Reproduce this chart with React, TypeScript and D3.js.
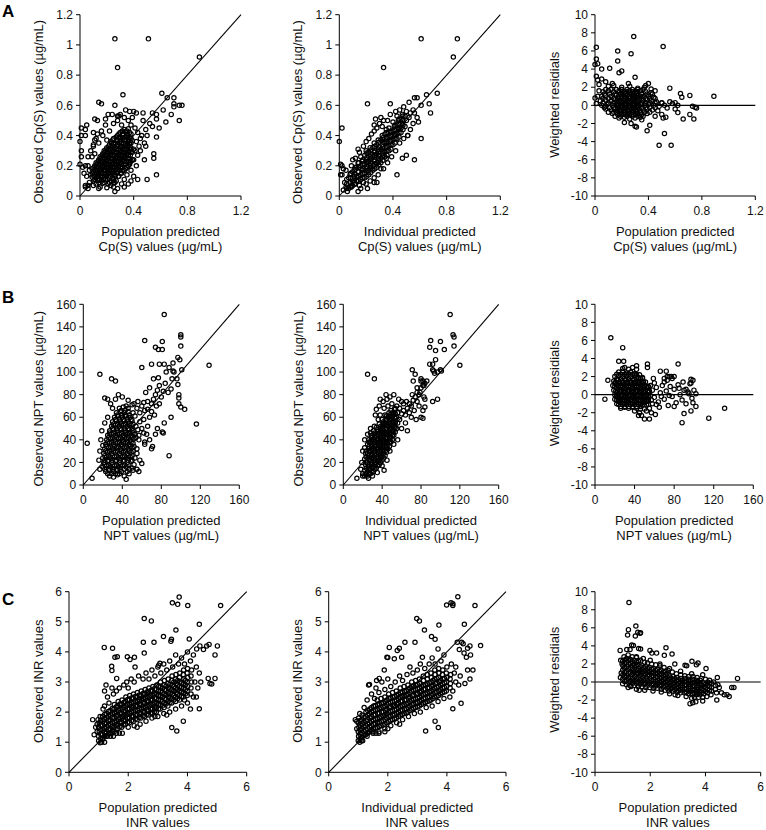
import React from "react";
import * as d3 from "d3";

type Pt = [number, number];
type Strip = [number, number[]];

// ---------- Row A : Cp(S) ----------
const cpPopObs: Pt[] = [
  [0.15,0.06],[0.2,0.055],[0.23,0.07],[0.12,0.08],[0.17,0.085],[0.21,0.08],[0.26,0.09],[0.31,0.08],
  [0.1,0.1],[0.135,0.105],[0.16,0.1],[0.19,0.11],[0.235,0.1],[0.27,0.1],
  [0.09,0.125],[0.12,0.12],[0.15,0.13],[0.18,0.12],[0.21,0.125],[0.245,0.12],[0.285,0.13],
  [0.08,0.14],[0.11,0.145],[0.14,0.14],[0.17,0.15],[0.2,0.14],[0.23,0.145],[0.26,0.14],[0.3,0.15],
  [0.1,0.16],[0.13,0.165],[0.16,0.16],[0.19,0.17],[0.22,0.16],[0.25,0.165],[0.28,0.16],[0.32,0.17],
  [0.09,0.18],[0.12,0.185],[0.15,0.18],[0.18,0.19],[0.21,0.18],[0.24,0.185],[0.27,0.18],[0.3,0.19],[0.34,0.18],
  [0.11,0.2],[0.14,0.205],[0.17,0.2],[0.2,0.21],[0.23,0.2],[0.26,0.205],[0.29,0.2],[0.32,0.21],[0.36,0.2],
  [0.12,0.22],[0.15,0.225],[0.18,0.22],[0.21,0.23],[0.24,0.22],[0.27,0.225],[0.3,0.22],[0.33,0.23],[0.37,0.22],
  [0.14,0.24],[0.17,0.245],[0.2,0.24],[0.23,0.25],[0.26,0.24],[0.29,0.245],[0.32,0.24],[0.35,0.25],[0.39,0.24],
  [0.15,0.26],[0.18,0.265],[0.21,0.26],[0.24,0.27],[0.27,0.26],[0.3,0.265],[0.33,0.26],[0.36,0.27],
  [0.17,0.28],[0.2,0.285],[0.23,0.28],[0.26,0.29],[0.29,0.28],[0.32,0.285],[0.35,0.28],[0.38,0.29],
  [0.18,0.3],[0.21,0.305],[0.24,0.3],[0.27,0.31],[0.3,0.3],[0.33,0.305],[0.36,0.3],[0.4,0.31],
  [0.2,0.32],[0.23,0.325],[0.26,0.32],[0.29,0.33],[0.32,0.32],[0.35,0.325],[0.38,0.32],
  [0.22,0.34],[0.25,0.345],[0.28,0.34],[0.31,0.35],[0.34,0.34],[0.37,0.345],
  [0.23,0.36],[0.27,0.365],[0.3,0.36],[0.33,0.37],[0.36,0.36],[0.39,0.365],
  [0.25,0.38],[0.29,0.385],[0.32,0.38],[0.35,0.39],[0.38,0.38],
  [0.28,0.4],[0.32,0.405],[0.35,0.4],[0.38,0.41],[0.3,0.42],[0.34,0.425],[0.37,0.42],[0.33,0.44],[0.36,0.445],
  [0.08,0.3],[0.1,0.33],[0.12,0.38],[0.14,0.35],[0.09,0.26],[0.06,0.2],[0.07,0.17],[0.17,0.4],[0.2,0.37],
  [0.22,0.43],[0.19,0.47],[0.25,0.48],[0.28,0.5],[0.31,0.47],[0.33,0.52],[0.36,0.5],[0.38,0.47],[0.41,0.45],
  [0.43,0.42],[0.45,0.38],[0.42,0.36],[0.44,0.33],[0.41,0.3],[0.43,0.27],[0.4,0.24],[0.42,0.2],[0.38,0.17],
  [0.35,0.14],[0.33,0.11],[0.4,0.13],[0.46,0.4],[0.49,0.44],[0.47,0.5],[0.52,0.48],[0.5,0.4],[0.48,0.35],
  [0.39,0.52],[0.42,0.55],[0.37,0.56],[0.3,0.54],[0.16,0.43],[0.13,0.41],[0.11,0.28],[0.05,0.13],[0.06,0.07],
  [0.1,0.07],[0.14,0.05],[0.25,0.06],[0.28,0.05],[0.36,0.08],[0.45,0.3],[0.04,0.4],[0.1,0.42],[0.11,0.37],[0.1,0.34],
  [0.26,1.04],[0.51,1.04],[0.28,0.85],[0.89,0.92],[0.32,0.67],[0.61,0.68],[0.65,0.65],[0.7,0.65],[0.7,0.61],
  [0.7,0.59],[0.74,0.6],[0.76,0.6],[0.74,0.5],[0.64,0.49],[0.68,0.54],[0.62,0.57],[0.14,0.62],[0.16,0.61],
  [0.26,0.6],[0.34,0.57],[0.4,0.56],[0.47,0.55],[0.54,0.55],[0.57,0.54],[0.57,0.51],[0.54,0.46],[0.59,0.45],
  [0.57,0.39],[0.49,0.33],[0.55,0.28],[0.55,0.25],[0.48,0.24],[0.57,0.14],[0.5,0.11],[0.43,0.11],[0.38,0.1],
  [0.33,0.06],[0.26,0.03],[0.01,0.45],[0.05,0.47],[0.04,0.44],[0.01,0.4],[0,0.36],[0.01,0.3],[0.01,0.26],
  [0,0.21],[0.02,0.19],[0.03,0.15],[0.04,0.2],[0.06,0.26],[0.04,0.07],[0.04,0.06],[0.06,0.05],[0.07,0.09],
  [0.11,0.51],[0.13,0.5],[0.19,0.51],[0.21,0.54],[0.24,0.54],[0.28,0.53],[0.29,0.53]
];
// dense core, rows of [y, x values]
const cpPopObsCore: Strip[] = [
  [0.09,[0.14,0.18,0.22,0.25]],
  [0.11,[0.11,0.145,0.175,0.205,0.25]],
  [0.13,[0.105,0.135,0.165,0.195,0.225,0.26,0.29]],
  [0.15,[0.095,0.125,0.155,0.185,0.215,0.245,0.275,0.31]],
  [0.17,[0.115,0.145,0.175,0.205,0.235,0.265,0.295,0.33]],
  [0.19,[0.105,0.135,0.165,0.195,0.225,0.255,0.285,0.315,0.35]],
  [0.21,[0.125,0.155,0.185,0.215,0.245,0.275,0.305,0.34,0.37]],
  [0.23,[0.135,0.165,0.195,0.225,0.255,0.285,0.315,0.35,0.38]],
  [0.25,[0.155,0.185,0.215,0.245,0.275,0.305,0.335,0.365]],
  [0.27,[0.165,0.195,0.225,0.255,0.285,0.315,0.345,0.375]],
  [0.29,[0.185,0.215,0.245,0.275,0.305,0.335,0.365,0.39]],
  [0.31,[0.195,0.225,0.255,0.285,0.315,0.345,0.375]],
  [0.33,[0.215,0.245,0.275,0.305,0.335,0.365]],
  [0.35,[0.235,0.265,0.295,0.325,0.355,0.38]],
  [0.37,[0.245,0.275,0.305,0.335,0.365]],
  [0.39,[0.27,0.3,0.335,0.365]],
  [0.41,[0.29,0.32,0.355]],
  [0.43,[0.315,0.35]]
];

const cpIndObs: Pt[] = [
  [0.03,0.04],[0.05,0.06],[0.04,0.09],[0.06,0.03],[0.07,0.05],[0.08,0.09],[0.07,0.12],[0.09,0.06],[0.08,0.14],
  [0.1,0.07],[0.1,0.1],[0.11,0.13],[0.1,0.16],[0.12,0.08],[0.12,0.19],
  [0.13,0.1],[0.13,0.13],[0.14,0.16],[0.13,0.19],[0.14,0.22],[0.15,0.07],
  [0.16,0.11],[0.16,0.14],[0.17,0.17],[0.16,0.2],[0.17,0.23],[0.16,0.26],[0.18,0.09],
  [0.19,0.12],[0.19,0.15],[0.2,0.18],[0.19,0.21],[0.2,0.24],[0.19,0.27],[0.2,0.3],
  [0.22,0.14],[0.22,0.17],[0.23,0.2],[0.22,0.23],[0.23,0.26],[0.22,0.29],[0.23,0.32],
  [0.25,0.17],[0.25,0.2],[0.26,0.23],[0.25,0.26],[0.26,0.29],[0.25,0.32],[0.26,0.35],
  [0.28,0.19],[0.28,0.22],[0.29,0.25],[0.28,0.28],[0.29,0.31],[0.28,0.34],[0.29,0.37],
  [0.31,0.22],[0.31,0.25],[0.32,0.28],[0.31,0.31],[0.32,0.34],[0.31,0.37],[0.32,0.4],
  [0.34,0.26],[0.34,0.29],[0.35,0.32],[0.34,0.35],[0.35,0.38],[0.34,0.41],[0.35,0.44],
  [0.37,0.3],[0.37,0.33],[0.38,0.36],[0.37,0.39],[0.38,0.42],[0.37,0.45],
  [0.4,0.34],[0.4,0.37],[0.41,0.4],[0.4,0.43],[0.41,0.46],[0.4,0.49],
  [0.43,0.38],[0.43,0.41],[0.44,0.44],[0.43,0.47],[0.44,0.5],[0.43,0.53],
  [0.46,0.42],[0.46,0.45],[0.47,0.48],[0.46,0.51],[0.47,0.54],[0.49,0.46],[0.5,0.5],[0.49,0.53],[0.5,0.56],
  [0.52,0.52],[0.53,0.55],[0.55,0.57],
  [0.02,0.2],[0.03,0.18],[0.02,0.14],[0.05,0.17],[0.09,0.2],[0.1,0.24],[0.12,0.25],[0.15,0.29],[0.14,0.31],
  [0.18,0.33],[0.2,0.36],[0.22,0.38],[0.24,0.41],[0.26,0.43],[0.28,0.45],[0.3,0.48],[0.32,0.46],[0.26,0.47],
  [0.27,0.51],[0.31,0.52],[0.33,0.5],[0.36,0.5],[0.38,0.54],[0.42,0.56],[0.45,0.57],[0.48,0.59],[0.2,0.08],
  [0.23,0.1],[0.26,0.12],[0.29,0.14],[0.33,0.18],[0.36,0.22],[0.39,0.26],[0.42,0.3],[0.45,0.35],[0.48,0.38],
  [0.51,0.4],[0.53,0.44],[0.55,0.48],[0.58,0.52],[0.56,0.55],[0.16,0.05],[0.21,0.05],[0.26,0.09],[0.28,0.09],
  [0.31,0.18],[0.35,0.25],
  [0.61,1.04],[0.88,1.04],[0.85,0.92],[0.33,0.85],[0.73,0.68],[0.65,0.67],[0.56,0.65],[0.58,0.65],[0.61,0.6],
  [0.67,0.61],[0.68,0.55],[0.52,0.62],[0.21,0.61],[0.38,0.61],[0.59,0.49],[0.61,0.38],[0.51,0.4],[0.47,0.25],
  [0.5,0.27],[0.56,0.24],[0.43,0.14],[0.02,0.45],[0,0.36],[0.01,0.21],[0.01,0.14],[0.14,0.03],[0.13,0.1]
];
// dense core, columns of [x, y values]
const cpIndObsCore: Strip[] = [
  [0.055,[0.05,0.08,0.11]],
  [0.085,[0.06,0.09,0.12,0.15]],
  [0.115,[0.08,0.115,0.145,0.175]],
  [0.145,[0.1,0.13,0.16,0.19,0.22]],
  [0.175,[0.12,0.15,0.18,0.21,0.24]],
  [0.205,[0.13,0.165,0.195,0.225,0.255,0.285]],
  [0.235,[0.155,0.185,0.215,0.245,0.275,0.305]],
  [0.265,[0.18,0.21,0.24,0.27,0.3,0.33]],
  [0.295,[0.205,0.235,0.265,0.295,0.325,0.355]],
  [0.325,[0.235,0.265,0.295,0.325,0.355,0.385]],
  [0.355,[0.27,0.3,0.33,0.36,0.39,0.42]],
  [0.385,[0.31,0.34,0.37,0.4,0.43]],
  [0.415,[0.35,0.38,0.41,0.44,0.47]],
  [0.445,[0.39,0.42,0.45,0.48,0.51]],
  [0.475,[0.44,0.47,0.5,0.53]]
];

const cpPopRes: Pt[] = [
  [0.1,2.1],[0.14,2.2],[0.2,2.0],[0.26,2.1],[0.32,1.9],[0.37,2.0],
  [0.06,1.5],[0.1,1.6],[0.14,1.5],[0.18,1.6],[0.22,1.5],[0.26,1.6],[0.3,1.5],[0.34,1.6],[0.38,1.5],[0.42,1.4],
  [0.05,1.0],[0.08,1.1],[0.12,1.0],[0.16,1.1],[0.2,1.0],[0.24,1.1],[0.28,1.0],[0.32,1.1],[0.36,1.0],[0.4,1.0],[0.44,0.9],
  [0.04,0.5],[0.08,0.6],[0.12,0.5],[0.15,0.6],[0.18,0.5],[0.21,0.6],[0.24,0.5],[0.27,0.6],[0.3,0.5],[0.33,0.6],[0.36,0.5],[0.39,0.6],[0.42,0.5],[0.46,0.4],
  [0.05,0.0],[0.09,0.1],[0.13,0.0],[0.16,0.1],[0.19,0.0],[0.22,0.1],[0.25,0.0],[0.28,0.1],[0.31,0.0],[0.34,0.1],[0.37,0.0],[0.4,0.1],[0.44,0.0],[0.48,-0.1],
  [0.08,-0.4],[0.12,-0.5],[0.15,-0.4],[0.18,-0.5],[0.21,-0.4],[0.24,-0.5],[0.27,-0.4],[0.3,-0.5],[0.33,-0.4],[0.36,-0.5],[0.39,-0.4],[0.43,-0.5],
  [0.13,-0.9],[0.17,-1.0],[0.2,-0.9],[0.23,-1.0],[0.26,-0.9],[0.29,-1.0],[0.32,-0.9],[0.35,-1.0],[0.39,-0.9],
  [0.18,-1.4],[0.22,-1.3],[0.26,-1.5],[0.3,-1.4],[0.34,-1.3],
  [0.17,0.25],[0.2,0.3],[0.23,0.25],[0.26,0.3],[0.29,0.25],[0.32,0.3],[0.17,0.75],[0.2,0.8],[0.23,0.75],[0.26,0.8],
  [0.29,0.75],[0.32,0.8],[0.17,-0.25],[0.2,-0.2],[0.23,-0.25],[0.26,-0.2],[0.29,-0.25],[0.32,-0.2],[0.19,-0.7],
  [0.22,-0.75],[0.25,-0.7],[0.28,-0.75],[0.31,-0.7],[0.19,1.25],[0.23,1.3],[0.27,1.25],[0.31,1.3],
  [0.29,7.6],[0.51,6.5],[0.01,6.4],[0.17,6.0],[0.17,4.9],[0.27,5.7],[0.18,3.6],[0.2,3.8],[0.01,5.1],[0.02,4.6],
  [0,4.5],[0.11,4.1],[0.05,4.0],[0.3,3.1],[0.01,3.2],[0.02,2.8],[0.03,2.3],[0.05,2.9],[0.56,1.9],[0.64,1.3],
  [0.65,0.9],[0.71,1.1],[0.89,1.0],[0.71,-1.0],[0.74,-1.5],[0.66,-1.5],[0.73,-0.1],[0.75,-0.2],[0.76,-0.3],
  [0.39,-2.8],[0.41,-2.2],[0.3,-2.3],[0.31,-2.4],[0.48,-4.4],[0.57,-4.4],[0.52,-3.1],[0.51,-1.4],[0.53,-1.3],
  [0.5,-1.0],[0.45,1.6],[0.42,1.8],[0.38,2.2],[0.4,2.4],[0.56,0.4],[0.58,0.2],[0.54,-0.3],[0.6,-0.4],[0.62,-0.8],
  [0.5,0.3],[0.52,0.0],[0.47,-0.6],[0.45,-1.2],[0.62,0.0],[0.6,0.3],[0.13,2.4],[0.08,2.6],[0.02,1.0],[0,0.8],
  [0.01,0.2],[0.03,1.6],[0.22,-1.9],[0.27,-2.0],[0.35,-1.6],[0.08,-0.1],[0.25,2.4]
];
const cpPopResCore: Strip[] = [
  [1.75,[0.08,0.12,0.16,0.2,0.24,0.28,0.32,0.36]],
  [1.5,[0.2,0.24,0.28,0.32]],
  [1.25,[0.07,0.11,0.15,0.35,0.39,0.43]],
  [1.0,[0.18,0.22,0.26,0.3,0.34]],
  [0.75,[0.06,0.1,0.14,0.35,0.38,0.41,0.45]],
  [0.5,[0.165,0.195,0.225,0.255,0.285,0.315]],
  [0.25,[0.06,0.1,0.14,0.35,0.38,0.41,0.45,0.5]],
  [0.0,[0.175,0.205,0.235,0.265,0.295,0.325]],
  [-0.25,[0.07,0.11,0.14,0.35,0.38,0.41,0.45]],
  [-0.5,[0.165,0.195,0.225,0.255,0.285,0.315]],
  [-0.75,[0.1,0.14,0.16,0.34,0.37,0.41]],
  [-1.0,[0.185,0.215,0.245,0.275,0.305]],
  [-1.2,[0.15,0.19,0.24,0.28,0.32,0.36]]
];

// ---------- Row B : NPT ----------
const nptPopObs: Pt[] = [
  [27,8],[31,7],[35,9],[23,12],[27,13],[31,12],[35,13],[39,12],[45,12],
  [20,16],[24,17],[28,16],[32,17],[36,16],[40,17],[44,16],[50,15],
  [21,20],[25,21],[29,20],[33,21],[37,20],[41,21],[45,20],[49,21],
  [20,24],[24,25],[28,24],[32,25],[36,24],[40,25],[44,24],[48,25],[53,24],
  [21,28],[25,29],[29,28],[33,29],[37,28],[41,29],[45,28],[49,29],
  [22,32],[26,33],[30,32],[34,33],[38,32],[42,33],[46,32],[50,33],[55,32],
  [23,36],[27,37],[31,36],[35,37],[39,36],[43,37],[47,36],[51,37],
  [24,40],[28,41],[32,40],[36,41],[40,40],[44,41],[48,40],[52,41],[57,40],
  [25,44],[29,45],[33,44],[37,45],[41,44],[45,45],[49,44],[53,45],
  [27,48],[31,49],[35,48],[39,49],[43,48],[47,49],[51,48],[56,49],
  [29,52],[33,53],[37,52],[41,53],[45,52],[49,53],[54,52],
  [30,56],[34,57],[38,56],[42,57],[46,56],[50,57],
  [32,60],[36,61],[40,60],[44,61],[48,60],[53,61],[34,64],[38,65],[42,64],[46,65],[51,64],[37,68],[41,69],[46,68],
  [28,72],[33,76],[36,80],[40,78],[46,75],[50,71],[55,68],[58,64],[60,70],[63,66],[62,58],[58,56],[60,50],[57,44],
  [62,46],[66,52],[68,60],[70,72],[72,76],[74,80],[76,84],[78,88],[70,65],[73,62],[75,70],[66,74],[64,82],[68,86],
  [78,72],[80,78],[82,83],[84,90],[77,95],[72,94],[65,45],[68,40],[63,38],[55,28],[58,22],[52,18],[47,10],[42,8],
  [18,40],[17,30],[16,22],[19,48],[22,55],[25,60],[20,35],[17,14],[25,76],[22,77],[30,68],[44,70],[52,72],[56,74],
  [62,73],[66,67],
  [83,151],[63,128],[81,127],[74,122],[77,120],[81,120],[100,133],[100,131],[100,123],[97,113],[99,111],[101,102],
  [92,101],[93,100],[129,106],[116,54],[88,26],[17,98],[29,94],[33,92],[60,104],[70,107],[78,107],[83,107],[97,89],
  [96,94],[91,94],[98,77],[98,72],[100,69],[104,67],[98,80],[90,60],[83,55],[81,47],[82,46],[76,50],[74,45],[71,34],
  [70,32],[63,36],[60,19],[55,14],[57,12],[51,13],[44,5],[9,6],[4,37],[85,100],[88,104],[92,108],[87,82],[90,85]
];
const nptPopObsCore: Strip[] = [
  [10,[25,29,33,37]],
  [14,[22,26,30,34,38,42,47]],
  [18,[22,26,30,34,38,42,46]],
  [22,[22,26,30,34,38,42,46,50]],
  [26,[22,26,30,34,38,42,46,50]],
  [30,[23,27,31,35,39,43,47,51]],
  [34,[24,28,32,36,40,44,48,52]],
  [38,[25,29,33,37,41,45,49]],
  [42,[26,30,34,38,42,46,50,54]],
  [46,[27,31,35,39,43,47,51]],
  [50,[30,34,38,42,46,50]],
  [54,[31,35,39,43,47,51]],
  [58,[33,37,41,45,49]],
  [62,[35,39,43,47]],
  [66,[39,43]]
];

const nptIndObs: Pt[] = [
  [22,8],[22,13],[23,18],[22,23],[23,28],[22,33],
  [25,8],[25,12],[26,16],[25,20],[26,24],[25,28],[26,32],[25,36],[26,40],
  [28,10],[28,14],[29,18],[28,22],[29,26],[28,30],[29,34],[28,38],[29,42],[28,46],
  [31,12],[31,16],[32,20],[31,24],[32,28],[31,32],[32,36],[31,40],[32,44],[31,48],
  [34,15],[34,19],[35,23],[34,27],[35,31],[34,35],[35,39],[34,43],[35,47],[34,51],
  [37,18],[37,22],[38,26],[37,30],[38,34],[37,38],[38,42],[37,46],[38,50],[37,54],
  [40,22],[40,26],[41,30],[40,34],[41,38],[40,42],[41,46],[40,50],[41,54],[40,58],
  [43,26],[43,30],[44,34],[43,38],[44,42],[43,46],[44,50],[43,54],[44,58],[43,62],
  [46,32],[46,36],[47,40],[46,44],[47,48],[46,52],[47,56],[46,60],[47,64],
  [49,38],[49,42],[50,46],[49,50],[50,54],[49,58],[50,62],[49,66],
  [52,44],[52,48],[53,52],[52,56],[53,60],[52,64],[53,68],[55,50],[56,55],[55,60],[56,64],[55,70],
  [58,58],[60,63],[62,66],[64,62],[66,68],[68,72],[70,70],[72,75],[74,78],[71,80],[76,82],[78,80],[80,86],[82,88],
  [84,90],[86,92],[80,92],[76,74],[68,64],[62,72],[65,74],[58,68],[60,74],[57,76],[50,72],[46,70],[42,68],[38,62],
  [36,58],[32,52],[28,50],[25,45],[22,40],[20,30],[19,20],[18,14],[20,10],[56,40],[52,36],[48,30],[45,22],[40,17],
  [35,11],[30,8],[60,50],[64,55],[66,48],[70,60],[73,66],[78,70],[84,76],[82,66],[80,60],[75,58],[33,62],[34,67],
  [37,70],[41,74],[45,76],[48,78],[52,80],[44,80],[38,76],
  [110,151],[113,133],[114,131],[114,123],[90,128],[100,127],[95,119],[104,120],[89,122],[120,106],[97,100],
  [95,111],[93,101],[92,102],[94,99],[100,102],[101,101],[92,107],[89,107],[92,74],[97,76],[82,59],[84,69],[83,78],
  [25,98],[32,94],[72,92],[71,102],[74,98],[80,94],[82,92],[83,88],[76,86],[79,82],[42,13],[14,6],[26,6],[20,8]
];
const nptIndObsCore: Strip[] = [
  [23.5,[10,15,20,25,30]],
  [26.5,[10,14,18,22,26,30,34,38]],
  [29.5,[12,16,20,24,28,32,36,40,44]],
  [32.5,[14,18,22,26,30,34,38,42,46]],
  [35.5,[17,21,25,29,33,37,41,45,49]],
  [38.5,[20,24,28,32,36,40,44,48,52]],
  [41.5,[24,28,32,36,40,44,48,52,56]],
  [44.5,[29,33,37,41,45,49,53,57,61]],
  [47.5,[34,38,42,46,50,54,58,62]],
  [50.5,[40,44,48,52,56,60,64]],
  [53.5,[47,51,55,59,63,67]]
];

const nptPopRes: Pt[] = [
  [24,2.5],[28,2.6],[32,2.4],[36,2.5],[40,2.3],
  [20,2.0],[24,2.1],[28,2.0],[32,2.1],[36,2.0],[40,2.1],[44,1.9],[48,1.9],
  [19,1.5],[23,1.6],[27,1.5],[31,1.6],[35,1.5],[39,1.6],[43,1.5],[47,1.5],[51,1.4],
  [18,1.0],[22,1.1],[26,1.0],[30,1.1],[34,1.0],[38,1.1],[42,1.0],[46,1.1],[50,1.0],[54,0.9],
  [19,0.5],[23,0.6],[27,0.5],[31,0.6],[35,0.5],[39,0.6],[43,0.5],[47,0.6],[51,0.5],[55,0.4],
  [20,0.0],[24,0.1],[28,0.0],[32,0.1],[36,0.0],[40,0.1],[44,0.0],[48,0.1],[52,0.0],[56,-0.1],
  [20,-0.5],[24,-0.4],[28,-0.5],[32,-0.4],[36,-0.5],[40,-0.4],[44,-0.5],[48,-0.4],[52,-0.5],[57,-0.6],
  [22,-1.0],[26,-0.9],[30,-1.0],[34,-0.9],[38,-1.0],[42,-0.9],[46,-1.0],[50,-0.9],[54,-1.1],
  [26,-1.5],[30,-1.4],[34,-1.5],[38,-1.4],[42,-1.5],[46,-1.6],
  [22,0.25],[26,0.3],[30,0.25],[34,0.3],[38,0.25],[42,0.3],[46,0.25],[22,0.75],[26,0.8],[30,0.75],[34,0.8],
  [38,0.75],[42,0.8],[46,0.75],[22,-0.25],[26,-0.2],[30,-0.25],[34,-0.2],[38,-0.25],[42,-0.2],[46,-0.25],
  [24,1.25],[28,1.3],[32,1.25],[36,1.3],[40,1.25],[24,-0.75],[28,-0.7],[32,-0.75],[36,-0.7],[40,-0.75],[44,-0.7],
  [26,1.75],[30,1.8],[34,1.75],[38,1.8],
  [58,0.5],[60,-0.3],[62,0.8],[64,-0.8],[66,0.2],[68,1.0],[70,-0.5],[72,0.4],[74,-1.2],[76,0.9],[78,-0.2],
  [80,0.6],[82,-0.9],[84,1.1],[86,0.0],[88,-0.6],[90,0.5],[92,-1.0],[94,0.3],[96,1.2],[98,-0.4],[60,1.3],
  [65,-1.4],[70,1.4],[75,-0.1],[80,-1.3],[85,0.7],[89,1.4],[62,-1.1],[67,-0.2],[73,1.6],[78,1.8],[58,-1.0],
  [56,1.0],[59,1.8],[55,-1.5],[52,-1.8],[57,-2.0],[50,-1.6],[48,1.8],[45,2.2],[42,2.8],[38,3.0],[34,2.8],
  [30,3.0],[28,2.9],
  [16,6.3],[28,5.2],[24,3.7],[29,3.7],[13,1.6],[10,-0.5],[42,3.2],[53,3.4],[53,3.0],[84,3.4],[66,2.6],[72,2.6],
  [73,2.0],[75,2.0],[77,2.0],[80,2.0],[70,1.8],[97,1.7],[99,1.6],[97,1.3],[131,-1.5],[115,-2.6],[88,-3.1],
  [90,-2.1],[102,-1.3],[99,-0.9],[97,-1.8],[50,-2.7],[55,-2.7],[61,-2.2],[44,-2.3],[95,0.1],[102,0.1],[92,0.6],
  [100,0.5],[45,-2.0],[40,-1.8],[47,-2.3]
];
const nptPopResCore: Strip[] = [
  [2.25,[22,26,30,34,38,42]],
  [1.75,[22,42,46]],
  [1.4,[21,25,29,33,37,41,45,49]],
  [1.25,[20,44,48]],
  [0.9,[20,24,28,32,36,40,44,48,52]],
  [0.75,[50,54]],
  [0.4,[21,25,29,33,37,41,45,49,53]],
  [0.25,[50,54]],
  [-0.1,[22,26,30,34,38,42,46,50,54]],
  [-0.25,[50,54]],
  [-0.6,[22,26,30,34,38,42,46,50,54]],
  [-0.75,[48,52]],
  [-1.1,[24,28,32,36,40,44,48,52]],
  [-1.3,[26,30,34,38,42,46]]
];

// ---------- Row C : INR ----------
const inrPopObs: Pt[] = [
  [1.0,1.05],[1.0,1.2],[1.02,1.35],[1.0,1.5],[1.02,1.65],[0.98,1.75],
  [1.13,1.1],[1.13,1.25],[1.15,1.4],[1.13,1.55],[1.15,1.7],[1.13,1.85],
  [1.26,1.2],[1.26,1.35],[1.28,1.5],[1.26,1.65],[1.28,1.8],[1.26,1.95],
  [1.39,1.3],[1.39,1.45],[1.41,1.6],[1.39,1.75],[1.41,1.9],[1.39,2.05],
  [1.52,1.35],[1.52,1.5],[1.54,1.65],[1.52,1.8],[1.54,1.95],[1.52,2.1],[1.53,2.25],
  [1.65,1.45],[1.65,1.6],[1.67,1.75],[1.65,1.9],[1.67,2.05],[1.65,2.2],[1.66,2.35],
  [1.78,1.5],[1.78,1.65],[1.8,1.8],[1.78,1.95],[1.8,2.1],[1.78,2.25],[1.79,2.4],
  [1.91,1.6],[1.91,1.75],[1.93,1.9],[1.91,2.05],[1.93,2.2],[1.91,2.35],[1.92,2.5],
  [2.04,1.65],[2.04,1.8],[2.06,1.95],[2.04,2.1],[2.06,2.25],[2.04,2.4],[2.05,2.55],
  [2.17,1.7],[2.17,1.85],[2.19,2.0],[2.17,2.15],[2.19,2.3],[2.17,2.45],[2.18,2.6],
  [2.3,1.75],[2.3,1.9],[2.32,2.05],[2.3,2.2],[2.32,2.35],[2.3,2.5],[2.31,2.65],
  [2.43,1.8],[2.43,1.95],[2.45,2.1],[2.43,2.25],[2.45,2.4],[2.43,2.55],[2.44,2.7],
  [2.56,1.85],[2.56,2.0],[2.58,2.15],[2.56,2.3],[2.58,2.45],[2.56,2.6],[2.57,2.75],
  [2.69,1.9],[2.69,2.05],[2.71,2.2],[2.69,2.35],[2.71,2.5],[2.69,2.65],[2.7,2.8],
  [2.82,1.95],[2.82,2.1],[2.84,2.25],[2.82,2.4],[2.84,2.55],[2.82,2.7],[2.83,2.85],
  [2.95,2.0],[2.95,2.15],[2.97,2.3],[2.95,2.45],[2.97,2.6],[2.95,2.75],[2.96,2.9],
  [3.08,2.1],[3.08,2.25],[3.1,2.4],[3.08,2.55],[3.1,2.7],[3.08,2.85],[3.09,3.0],
  [3.21,2.15],[3.21,2.3],[3.23,2.45],[3.21,2.6],[3.23,2.75],[3.21,2.9],[3.22,3.05],
  [3.34,2.2],[3.34,2.35],[3.36,2.5],[3.34,2.65],[3.36,2.8],[3.34,2.95],[3.35,3.1],
  [3.47,2.3],[3.47,2.45],[3.49,2.6],[3.47,2.75],[3.49,2.9],[3.47,3.05],[3.48,3.2],
  [3.6,2.35],[3.6,2.5],[3.62,2.65],[3.6,2.8],[3.62,2.95],[3.6,3.1],[3.61,3.25],
  [3.73,2.4],[3.73,2.55],[3.75,2.7],[3.73,2.85],[3.75,3.0],[3.73,3.15],[3.74,3.3],
  [3.86,2.5],[3.86,2.65],[3.88,2.8],[3.86,2.95],[3.88,3.1],[3.86,3.25],[3.87,3.4],
  [3.99,2.55],[3.99,2.7],[4.01,2.85],[3.99,3.0],[4.01,3.15],[3.99,3.3],[4.0,3.45],
  [4.12,2.6],[4.12,2.8],[4.14,3.0],[4.12,3.2],[4.14,3.4],
  [0.95,1.6],[1.05,1.85],[1.2,2.2],[1.3,2.5],[1.2,2.7],[1.25,2.9],[1.45,2.8],[1.5,2.6],[1.6,2.7],[1.7,2.8],
  [1.85,2.9],[1.95,3.0],[2.0,2.8],[2.1,3.1],[2.2,3.0],[2.35,3.2],[2.5,3.1],[2.6,3.3],[2.7,3.1],[2.8,3.4],
  [2.9,3.2],[3.0,3.5],[3.1,3.3],[3.2,3.6],[3.3,3.4],[3.4,3.7],[3.5,3.5],[3.6,3.9],[3.7,3.6],[3.8,3.8],
  [3.9,3.6],[4.0,4.0],[4.1,3.7],[4.2,3.9],[4.3,3.5],[4.4,3.3],[4.25,3.0],[4.35,2.8],[4.45,3.0],[4.2,2.5],
  [4.0,2.3],[3.8,2.2],[3.6,2.1],[3.4,2.0],[3.2,1.95],[3.0,1.85],[2.8,1.8],[2.6,1.7],[2.4,1.6],[2.2,1.55],
  [2.0,1.5],[1.8,1.3],[1.6,1.3],[1.4,1.2],[1.2,1.0],[1.1,1.0],[1.5,1.2],[1.7,1.3],[2.3,1.5],[2.9,1.85],
  [3.3,1.9],[3.9,2.4],[4.3,2.5],[4.1,2.1],[1.35,2.3],[1.15,2.1],
  [3.72,5.82],[3.49,5.63],[3.67,5.58],[4.01,5.54],[5.12,5.54],[2.54,5.11],[2.78,5.03],[3.61,4.73],[4.4,4.92],
  [3.19,4.51],[3.46,4.42],[3.44,4.35],[2.51,4.32],[2.87,4.32],[4.06,4.43],[1.19,4.15],[1.47,4.12],[1.55,3.82],
  [1.63,3.84],[1.97,3.84],[2.06,3.75],[2.21,3.82],[2.54,3.96],[2.23,3.5],[1.45,3.38],[1.61,3.12],[1.44,3.52],
  [3.03,3.56],[3.07,3.62],[4.31,4.1],[4.42,4.2],[4.54,4.08],[4.65,4.2],[4.73,4.25],[4.93,3.9],[5.01,4.2],
  [4.93,3.12],[4.7,3.12],[4.76,2.95],[4.82,2.93],[4.4,2.11],[3.47,1.49],[3.64,1.37],[3.86,1.7],[2.9,2.1],
  [0.8,1.75],[0.9,1.5],[0.95,1.35],[0.85,1.25],[1.05,0.98],[1.25,1.3],[1.3,1.2],[1.45,1.3]
];
const inrPopObsCore: Strip[] = [
  [1.07,[1.12,1.27,1.42,1.57,1.72]],
  [1.2,[1.17,1.32,1.47,1.62,1.77,1.92]],
  [1.33,[1.27,1.42,1.57,1.72,1.87,2.02]],
  [1.46,[1.37,1.52,1.67,1.82,1.97,2.12]],
  [1.59,[1.42,1.57,1.72,1.87,2.02,2.17]],
  [1.72,[1.52,1.67,1.82,1.97,2.12,2.27]],
  [1.85,[1.57,1.72,1.87,2.02,2.17,2.32]],
  [1.98,[1.67,1.82,1.97,2.12,2.27,2.42]],
  [2.11,[1.72,1.87,2.02,2.17,2.32,2.47]],
  [2.24,[1.77,1.92,2.07,2.22,2.37,2.52]],
  [2.37,[1.82,1.97,2.12,2.27,2.42,2.57]],
  [2.5,[1.87,2.02,2.17,2.32,2.47,2.62]],
  [2.63,[1.92,2.07,2.22,2.37,2.52,2.67]],
  [2.76,[1.97,2.12,2.27,2.42,2.57,2.72]],
  [2.89,[2.02,2.17,2.32,2.47,2.62,2.77]],
  [3.02,[2.1,2.25,2.4,2.55,2.7,2.85]],
  [3.15,[2.2,2.35,2.5,2.65,2.8]],
  [3.28,[2.27,2.42,2.57,2.72,2.87]],
  [3.41,[2.32,2.47,2.62,2.77,2.92]],
  [3.54,[2.4,2.55,2.7,2.85,3.0]],
  [3.67,[2.45,2.6,2.75,2.9,3.05]],
  [3.8,[2.52,2.67,2.82,2.97]],
  [3.93,[2.6,2.75,2.9,3.05]]
];

const inrIndObs: Pt[] = [
  [1.0,1.05],[1.01,1.2],[1.0,1.35],[1.02,1.5],[1.0,1.65],[1.01,1.8],
  [1.12,1.15],[1.13,1.3],[1.12,1.45],[1.14,1.6],[1.12,1.75],[1.13,1.9],
  [1.25,1.25],[1.26,1.4],[1.25,1.55],[1.27,1.7],[1.25,1.85],[1.26,2.0],
  [1.38,1.35],[1.39,1.5],[1.38,1.65],[1.4,1.8],[1.38,1.95],[1.39,2.1],
  [1.51,1.45],[1.52,1.6],[1.51,1.75],[1.53,1.9],[1.51,2.05],[1.52,2.2],
  [1.64,1.5],[1.65,1.65],[1.64,1.8],[1.66,1.95],[1.64,2.1],[1.65,2.25],[1.64,2.4],
  [1.77,1.55],[1.78,1.7],[1.77,1.85],[1.79,2.0],[1.77,2.15],[1.78,2.3],[1.77,2.45],
  [1.9,1.6],[1.91,1.75],[1.9,1.9],[1.92,2.05],[1.9,2.2],[1.91,2.35],[1.9,2.5],
  [2.03,1.7],[2.04,1.85],[2.03,2.0],[2.05,2.15],[2.03,2.3],[2.04,2.45],[2.03,2.6],
  [2.16,1.75],[2.17,1.9],[2.16,2.05],[2.18,2.2],[2.16,2.35],[2.17,2.5],[2.16,2.65],
  [2.29,1.8],[2.3,1.95],[2.29,2.1],[2.31,2.25],[2.29,2.4],[2.3,2.55],[2.29,2.7],
  [2.42,1.9],[2.43,2.05],[2.42,2.2],[2.44,2.35],[2.42,2.5],[2.43,2.65],[2.42,2.8],
  [2.55,1.95],[2.56,2.1],[2.55,2.25],[2.57,2.4],[2.55,2.55],[2.56,2.7],[2.55,2.85],
  [2.68,2.0],[2.69,2.15],[2.68,2.3],[2.7,2.45],[2.68,2.6],[2.69,2.75],[2.68,2.9],
  [2.81,2.1],[2.82,2.25],[2.81,2.4],[2.83,2.55],[2.81,2.7],[2.82,2.85],[2.81,3.0],
  [2.94,2.15],[2.95,2.3],[2.94,2.45],[2.96,2.6],[2.94,2.75],[2.95,2.9],[2.94,3.05],
  [3.07,2.2],[3.08,2.35],[3.07,2.5],[3.09,2.65],[3.07,2.8],[3.08,2.95],[3.07,3.1],
  [3.2,2.3],[3.21,2.45],[3.2,2.6],[3.22,2.75],[3.2,2.9],[3.21,3.05],[3.2,3.2],
  [3.33,2.35],[3.34,2.5],[3.33,2.65],[3.35,2.8],[3.33,2.95],[3.34,3.1],[3.33,3.25],
  [3.46,2.4],[3.47,2.55],[3.46,2.7],[3.48,2.85],[3.46,3.0],[3.47,3.15],[3.46,3.3],
  [3.59,2.5],[3.6,2.65],[3.59,2.8],[3.61,2.95],[3.59,3.1],[3.6,3.25],[3.59,3.4],
  [3.72,2.55],[3.73,2.7],[3.72,2.85],[3.74,3.0],[3.72,3.15],[3.73,3.3],[3.72,3.45],
  [3.85,2.65],[3.86,2.8],[3.85,2.95],[3.87,3.1],[3.85,3.25],[3.86,3.4],
  [3.98,2.7],[3.99,2.85],[3.98,3.0],[4.0,3.15],[3.98,3.3],[4.11,2.8],[4.12,2.95],[4.11,3.1],[4.13,3.25],
  [0.95,1.7],[1.05,1.95],[1.2,2.15],[1.3,2.4],[1.35,2.9],[1.45,2.6],[1.55,2.45],[1.6,2.8],[1.7,2.65],[1.8,3.0],
  [1.9,2.75],[2.0,3.1],[2.1,2.85],[2.25,3.0],[2.4,3.2],[2.5,3.05],[2.65,3.25],[2.75,3.5],[2.85,3.3],[3.0,3.4],
  [3.1,3.6],[3.25,3.45],[3.4,3.6],[3.5,3.8],[3.6,3.6],[3.7,4.1],[3.8,3.7],[3.9,3.9],[4.0,3.5],[4.15,3.6],
  [4.25,3.3],[4.3,3.0],[4.2,2.7],[4.4,2.9],[4.1,2.5],[3.9,2.45],[3.7,2.35],[3.5,2.2],[3.3,2.15],[3.1,2.0],
  [2.9,1.95],[2.7,1.85],[2.5,1.75],[2.3,1.65],[2.1,1.55],[1.9,1.45],[1.7,1.35],[1.5,1.3],[1.3,1.2],[1.15,1.05],
  [1.6,1.3],[2.0,1.45],[2.4,1.6],[4.3,3.5],[4.45,3.2],
  [4.37,5.83],[4.14,5.63],[4.2,5.6],[4.2,5.54],[3.99,5.56],[4.95,5.54],[5.14,4.21],[4.59,4.92],[3.73,4.89],
  [2.98,5.11],[3.07,5.03],[3.24,4.73],[3.48,4.51],[3.6,4.42],[2.58,4.32],[2.92,4.32],[2.05,4.15],[2.39,4.12],
  [2.32,4.05],[2.47,3.82],[1.97,3.82],[2.0,3.81],[2.22,3.77],[3.17,3.82],[4.35,4.32],[4.5,4.32],[4.55,4.27],
  [4.42,4.08],[4.7,4.12],[4.78,4.2],[4.8,3.9],[4.58,3.96],[4.66,3.82],[4.88,3.4],[4.7,3.4],[4.78,3.1],
  [4.61,2.95],[4.48,2.29],[4.2,2.11],[3.6,1.7],[3.71,1.49],[3.28,1.37],[1.88,3.4],[1.71,3.12],[1.62,3.05],
  [1.38,2.92],[0.9,1.75],[0.95,1.45],[1.05,1.0],[1.1,1.05],[1.5,1.35],[1.7,1.3],[1.9,1.35]
];
const inrIndObsCore: Strip[] = [
  [1.06,[1.12,1.27,1.42,1.57,1.72]],
  [1.19,[1.22,1.37,1.52,1.67,1.82]],
  [1.32,[1.3,1.45,1.6,1.75,1.9,2.05]],
  [1.45,[1.4,1.55,1.7,1.85,2.0,2.15]],
  [1.58,[1.47,1.62,1.77,1.92,2.07,2.22]],
  [1.71,[1.52,1.67,1.82,1.97,2.12,2.27]],
  [1.84,[1.57,1.72,1.87,2.02,2.17,2.32]],
  [1.97,[1.65,1.8,1.95,2.1,2.25,2.4]],
  [2.1,[1.72,1.87,2.02,2.17,2.32,2.47]],
  [2.23,[1.77,1.92,2.07,2.22,2.37,2.52]],
  [2.36,[1.85,2.0,2.15,2.3,2.45,2.6]],
  [2.49,[1.92,2.07,2.22,2.37,2.52,2.67]],
  [2.62,[1.97,2.12,2.27,2.42,2.57,2.72]],
  [2.75,[2.05,2.2,2.35,2.5,2.65,2.8]],
  [2.88,[2.12,2.27,2.42,2.57,2.72,2.87]],
  [3.01,[2.17,2.32,2.47,2.62,2.77,2.92]],
  [3.14,[2.25,2.4,2.55,2.7,2.85]],
  [3.27,[2.32,2.47,2.62,2.77,2.92]],
  [3.4,[2.37,2.52,2.67,2.82,2.97]],
  [3.53,[2.45,2.6,2.75,2.9,3.05]],
  [3.66,[2.52,2.67,2.82,2.97,3.12]],
  [3.79,[2.6,2.75,2.9,3.05]],
  [3.92,[2.67,2.82,2.97,3.12]]
];

const inrPopRes: Pt[] = [
  [1.0,-0.2],[1.0,0.3],[1.01,0.8],[1.0,1.3],[1.01,1.8],[1.0,2.3],
  [1.14,-0.3],[1.14,0.2],[1.15,0.7],[1.14,1.2],[1.15,1.7],[1.14,2.2],[1.15,2.6],
  [1.28,-0.4],[1.28,0.1],[1.29,0.6],[1.28,1.1],[1.29,1.6],[1.28,2.1],[1.29,2.5],
  [1.42,-0.4],[1.42,0.1],[1.43,0.6],[1.42,1.1],[1.43,1.6],[1.42,2.0],[1.43,2.4],
  [1.56,-0.5],[1.56,0.0],[1.57,0.5],[1.56,1.0],[1.57,1.5],[1.56,1.9],[1.57,2.3],
  [1.7,-0.5],[1.7,0.0],[1.71,0.5],[1.7,1.0],[1.71,1.4],[1.7,1.8],
  [1.84,-0.6],[1.84,-0.1],[1.85,0.4],[1.84,0.9],[1.85,1.3],[1.84,1.7],
  [1.98,-0.6],[1.98,-0.1],[1.99,0.4],[1.98,0.8],[1.99,1.2],[1.98,1.6],
  [2.12,-0.7],[2.12,-0.2],[2.13,0.3],[2.12,0.7],[2.13,1.1],[2.12,1.5],
  [2.26,-0.7],[2.26,-0.2],[2.27,0.2],[2.26,0.6],[2.27,1.0],[2.26,1.4],
  [2.4,-0.8],[2.4,-0.3],[2.41,0.1],[2.4,0.5],[2.41,0.9],[2.4,1.3],
  [2.54,-0.9],[2.54,-0.4],[2.55,0.0],[2.54,0.4],[2.55,0.8],[2.54,1.2],
  [2.68,-1.0],[2.68,-0.5],[2.69,-0.1],[2.68,0.3],[2.69,0.7],
  [2.82,-1.0],[2.82,-0.6],[2.83,-0.2],[2.82,0.2],[2.83,0.6],
  [2.96,-1.1],[2.96,-0.7],[2.97,-0.3],[2.96,0.1],[2.97,0.5],
  [3.1,-1.2],[3.1,-0.8],[3.11,-0.4],[3.1,0.0],[3.11,0.4],
  [3.24,-1.2],[3.24,-0.8],[3.25,-0.4],[3.24,0.0],[3.25,0.4],
  [3.38,-1.3],[3.38,-0.9],[3.39,-0.5],[3.38,-0.1],[3.39,0.3],
  [3.52,-1.3],[3.52,-0.9],[3.53,-0.5],[3.52,-0.1],[3.53,0.3],
  [3.66,-1.4],[3.66,-1.0],[3.67,-0.6],[3.66,-0.2],[3.67,0.2],
  [3.8,-1.4],[3.8,-1.0],[3.81,-0.6],[3.8,-0.2],[3.81,0.2],
  [3.94,-1.3],[3.94,-0.9],[3.95,-0.5],[3.94,-0.1],[4.08,-1.2],[4.08,-0.8],[4.09,-0.4],[4.08,0.0],
  [4.22,-1.0],[4.22,-0.6],[4.23,-0.2],[4.36,-0.8],[4.36,-0.4],
  [1.05,2.8],[1.2,3.0],[1.1,2.5],[0.95,1.0],[0.92,0.5],[1.35,2.8],[1.5,2.7],[1.65,2.4],[1.8,2.2],[1.9,2.1],
  [2.05,2.0],[2.2,1.9],[2.35,1.8],[2.5,1.6],[2.65,1.3],[2.8,1.1],[2.95,0.9],[3.1,0.8],[3.25,0.7],[3.4,0.6],
  [3.55,0.6],[3.7,0.5],[3.85,0.4],[4.0,0.3],[4.15,0.2],[4.3,0.0],[4.45,-0.3],[4.5,-0.6],[4.4,-1.2],[4.2,-1.4],
  [3.9,-1.7],[3.6,-1.7],[3.3,-1.6],[3.0,-1.5],[2.7,-1.3],[2.4,-1.1],[2.1,-1.0],[1.8,-0.9],[1.5,-0.8],[1.2,-0.6],
  [1.6,-0.9],[1.3,-0.5],[2.9,-1.4],[3.5,-1.8],[3.75,-1.7],[4.05,-1.6],
  [1.23,8.8],[1.21,5.8],[1.18,5.2],[1.48,6.2],[1.55,5.5],[1.63,5.4],[1.65,5.45],[1.46,5.1],[0.91,3.5],[1.15,3.6],
  [1.27,3.6],[1.33,4.1],[1.39,4.05],[1.58,3.7],[1.65,3.65],[1.99,3.5],[2.06,3.2],[2.23,3.2],[2.57,3.8],[2.51,2.95],
  [2.79,3.1],[2.89,2.0],[3.26,1.85],[3.32,1.8],[3.51,2.3],[3.67,1.9],[3.73,2.1],[4.02,1.5],[4.43,0.5],[5.16,0.4],
  [4.58,-1.2],[4.68,-1.4],[4.78,-1.4],[4.86,-1.6],[4.95,-0.6],[5.03,-0.6],[4.41,-2.0],[3.9,-2.1],[3.54,-2.3],
  [3.44,-2.4],[3.65,-2.2],[1.5,2.8],[1.75,2.6],[2.0,2.4],[2.35,2.0],[2.7,1.5],[3.1,1.2],[3.5,0.9],[3.9,0.8],
  [0.93,2.4],[0.98,2.0]
];
const inrPopResCore: Strip[] = [
  [1.07,[0.05,0.55,1.05,1.55,2.05]],
  [1.21,[-0.05,0.45,0.95,1.45,1.95,2.4]],
  [1.35,[-0.15,0.35,0.85,1.35,1.85,2.25]],
  [1.49,[-0.15,0.35,0.85,1.35,1.8,2.2]],
  [1.63,[-0.25,0.25,0.75,1.25,1.7]],
  [1.77,[-0.25,0.25,0.75,1.2,1.6]],
  [1.91,[-0.35,0.15,0.65,1.1,1.5]],
  [2.05,[-0.35,0.15,0.6,1.0,1.4]],
  [2.19,[-0.45,0.05,0.5,0.9,1.3]],
  [2.33,[-0.45,0.0,0.4,0.8,1.2]],
  [2.47,[-0.55,-0.1,0.3,0.7,1.1]],
  [2.61,[-0.7,-0.3,0.2,0.55,0.95]],
  [2.75,[-0.75,-0.35,0.05,0.45]],
  [2.89,[-0.85,-0.45,-0.05,0.35]],
  [3.03,[-0.95,-0.55,-0.15,0.25]],
  [3.17,[-1.0,-0.6,-0.2,0.2]],
  [3.31,[-1.1,-0.7,-0.3,0.1]],
  [3.45,[-1.1,-0.7,-0.3,0.1]],
  [3.59,[-1.2,-0.8,-0.4,0.0]],
  [3.73,[-1.2,-0.8,-0.4,0.0]],
  [3.87,[-1.15,-0.75,-0.35]],
  [4.01,[-1.05,-0.65,-0.25]],
  [4.15,[-0.9,-0.5,-0.1]]
];

// strips -> points (values are only unpacked, none generated)
const fromRows = (rows: Strip[]): Pt[] => rows.flatMap(([yv, xs]) => xs.map((xv) => [xv, yv] as Pt));
const fromCols = (cols: Strip[]): Pt[] => cols.flatMap(([xv, ys]) => ys.map((yv) => [xv, yv] as Pt));

// ---------- ticks & titles ----------
const cpTicksX = [0, 0.4, 0.8, 1.2];
const cpTicksY = [0, 0.2, 0.4, 0.6, 0.8, 1, 1.2];
const nptTicksX = [0, 40, 80, 120, 160];
const nptTicksY = [0, 20, 40, 60, 80, 100, 120, 140, 160];
const inrTicksX = [0, 2, 4, 6];
const inrTicksY = [0, 1, 2, 3, 4, 5, 6];
const resTicksY = [-10, -8, -6, -4, -2, 0, 2, 4, 6, 8, 10];

const rowLetters = ["A", "B", "C"];
const xTitleFirst = ["Population predicted", "Individual predicted", "Population predicted"];
const xTitleSecond = ["Cp(S) values (µg/mL)", "NPT values (µg/mL)", "INR values"];
const yTitlesObs = ["Observed Cp(S) values (µg/mL)", "Observed NPT values (µg/mL)", "Observed INR values"];
const yTitleRes = "Weighted residials";

const FONT = "'Liberation Sans', Arial, Helvetica, sans-serif";

type PanelCfg = {
  data: Pt[];
  left: number; right: number; top: number; bottom: number;
  xMax: number; yMin: number; yMax: number;
  xTicks: number[]; yTicks: number[];
  refLine: "diag" | "zero";
  xTitle: [string, string];
  yTitle: string; yTitleX: number; yTitleY: number;
};

function Panel({ c }: { c: PanelCfg }) {
  const x = d3.scaleLinear().domain([0, c.xMax]).range([c.left, c.right]);
  const y = d3.scaleLinear().domain([c.yMin, c.yMax]).range([c.bottom, c.top]);
  const cx = (c.left + c.right) / 2;
  return (
    <g>
      {c.refLine === "diag" ? (
        <line x1={x(0)} y1={y(0)} x2={x(c.xMax)} y2={y(c.yMax)} stroke="#000" strokeWidth={1.1} />
      ) : null}
      {c.data.map((d, i) => (
        <circle key={i} cx={x(d[0])} cy={y(d[1])} r={2.15} fill="none" stroke="#000" strokeWidth={1.2} />
      ))}
      {c.refLine === "zero" ? (
        <line x1={x(0)} y1={y(0)} x2={x(c.xMax)} y2={y(0)} stroke="#000" strokeWidth={1.1} />
      ) : null}
      <line x1={c.left} y1={c.top} x2={c.left} y2={c.bottom} stroke="#000" strokeWidth={1} />
      <line x1={c.left} y1={c.bottom} x2={c.right} y2={c.bottom} stroke="#000" strokeWidth={1} />
      {c.yTicks.map((t) => (
        <g key={"y" + t}>
          <line x1={c.left - 4} x2={c.left} y1={y(t)} y2={y(t)} stroke="#000" strokeWidth={1} />
          <text x={c.left - 7} y={y(t)} dy="0.35em" textAnchor="end" fontSize={12} fontFamily={FONT} fill="#111">
            {String(t)}
          </text>
        </g>
      ))}
      {c.xTicks.map((t) => (
        <g key={"x" + t}>
          <line x1={x(t)} x2={x(t)} y1={c.bottom} y2={c.bottom + 4} stroke="#000" strokeWidth={1} />
          <text x={x(t)} y={c.bottom + 19} textAnchor="middle" fontSize={12} fontFamily={FONT} fill="#111">
            {String(t)}
          </text>
        </g>
      ))}
      <text x={cx} y={c.bottom + 39.5} textAnchor="middle" fontSize={13} fontFamily={FONT} fill="#111">
        {c.xTitle[0]}
      </text>
      <text x={cx} y={c.bottom + 55} textAnchor="middle" fontSize={13} fontFamily={FONT} fill="#111">
        {c.xTitle[1]}
      </text>
      <text
        transform={`translate(${c.yTitleX},${c.yTitleY}) rotate(-90)`}
        textAnchor="middle"
        fontSize={13}
        fontFamily={FONT}
        fill="#111"
      >
        {c.yTitle}
      </text>
    </g>
  );
}

const rowsGeom = [
  { top: 14.7, bottom: 196, cols: [[80, 241], [339.3, 500.3], [595, 755.3]], ty: [111.7, 112, 104.7], letterY: 17 },
  { top: 304.3, bottom: 485, cols: [[83.3, 239.3], [343.3, 498.7], [595, 753.3]], ty: [398.7, 398.8, 393.3], letterY: 303 },
  { top: 591.7, bottom: 772.3, cols: [[69, 246.7], [328.7, 506], [595, 760.7]], ty: [681.2, 681, 679.7], letterY: 604.5 },
];
const titleX = [[43, 302.3, 559.3], [43.3, 302.7, 559.3], [42.7, 302.3, 559.3]];

const rowData: Pt[][][] = [
  [cpPopObs.concat(fromRows(cpPopObsCore)), cpIndObs.concat(fromCols(cpIndObsCore)), cpPopRes.concat(fromRows(cpPopResCore))],
  [nptPopObs.concat(fromRows(nptPopObsCore)), nptIndObs.concat(fromCols(nptIndObsCore)), nptPopRes.concat(fromRows(nptPopResCore))],
  [inrPopObs.concat(fromCols(inrPopObsCore)), inrIndObs.concat(fromCols(inrIndObsCore)), inrPopRes.concat(fromCols(inrPopResCore))],
];
const rowXMax = [1.2, 160, 6];
const rowXTicks = [cpTicksX, nptTicksX, inrTicksX];
const rowYTicks = [cpTicksY, nptTicksY, inrTicksY];

export default function App() {
  const panels: PanelCfg[] = [];
  rowsGeom.forEach((g, r) => {
    for (let k = 0; k < 3; k++) {
      const isRes = k === 2;
      panels.push({
        data: rowData[r][k],
        left: g.cols[k][0],
        right: g.cols[k][1],
        top: g.top,
        bottom: g.bottom,
        xMax: rowXMax[r],
        yMin: isRes ? -10 : 0,
        yMax: isRes ? 10 : rowXMax[r],
        xTicks: rowXTicks[r],
        yTicks: isRes ? resTicksY : rowYTicks[r],
        refLine: isRes ? "zero" : "diag",
        xTitle: [xTitleFirst[k], xTitleSecond[r]],
        yTitle: isRes ? yTitleRes : yTitlesObs[r],
        yTitleX: titleX[r][k],
        yTitleY: g.ty[k],
      });
    }
  });
  return (
    <svg
      width={766}
      height={830}
      viewBox="0 0 766 830"
      style={{ position: "absolute", left: 0, top: 0, display: "block", background: "#fff" }}
    >
      <rect x={0} y={0} width={766} height={830} fill="#fff" />
      {rowsGeom.map((g, r) => (
        <text key={rowLetters[r]} x={2} y={g.letterY} fontSize={17} fontWeight="bold" fontFamily={FONT} fill="#000">
          {rowLetters[r]}
        </text>
      ))}
      {panels.map((p, i) => (
        <Panel key={i} c={p} />
      ))}
    </svg>
  );
}
